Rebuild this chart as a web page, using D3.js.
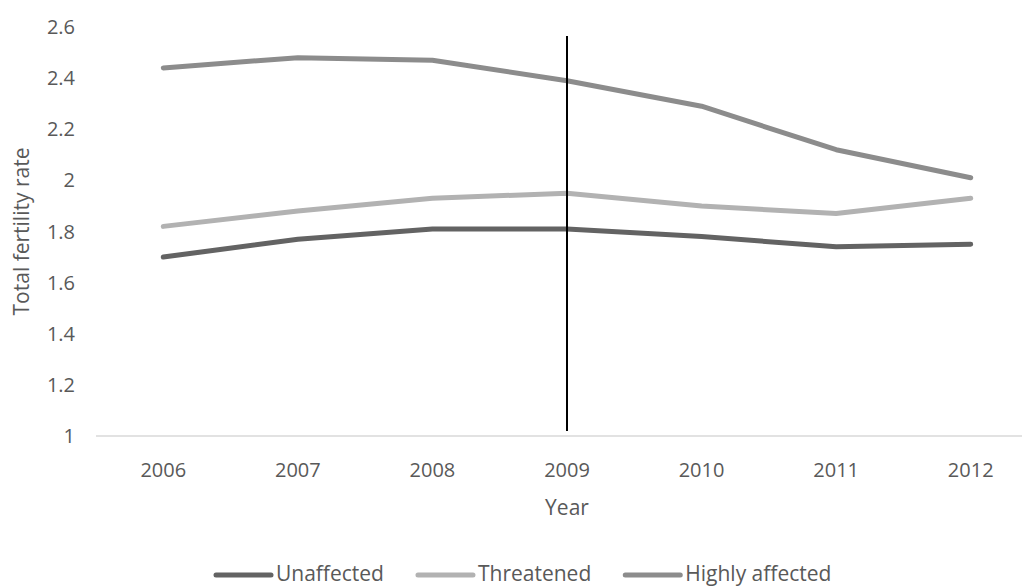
<!DOCTYPE html>
<html>
<head>
<meta charset="utf-8">
<script src="https://cdn.jsdelivr.net/npm/d3@7/dist/d3.min.js"></script>
<style>
  html, body { margin: 0; padding: 0; background: #fff; }
  svg { display: block; font-family: "Open Sans", Lato, sans-serif; }
</style>
</head>
<body>
<svg id="chart" width="1022" height="587"></svg>
<script>
// Total fertility rate by region type, 2006–2012
const years = ["2006", "2007", "2008", "2009", "2010", "2011", "2012"];
const unaffected = [1.70, 1.77, 1.81, 1.81, 1.78, 1.74, 1.75];
const threatened = [1.82, 1.88, 1.93, 1.95, 1.90, 1.87, 1.93];
const highlyAffected = [2.44, 2.48, 2.47, 2.39, 2.29, 2.12, 2.01];
const yTicks = [1, 1.2, 1.4, 1.6, 1.8, 2, 2.2, 2.4, 2.6];
const markerYear = "2009";
const markerSpan = [1.02, 2.565];

const series = [
  { name: "Unaffected", values: unaffected, color: "#636363" },
  { name: "Threatened", values: threatened, color: "#b2b2b2" },
  { name: "Highly affected", values: highlyAffected, color: "#8c8c8c" }
];

const svg = d3.select("#chart");
const textColor = "#595959";

const x = d3.scalePoint().domain(years).range([96, 1038]).padding(0.5);
const y = d3.scaleLinear().domain([1, 2.6]).range([436, 27]);

// x axis baseline and year labels
svg.append("line")
  .attr("x1", 96).attr("x2", 1038)
  .attr("y1", y(1)).attr("y2", y(1))
  .attr("stroke", "#d9d9d9").attr("stroke-width", 1.5);

svg.append("g").selectAll("text")
  .data(years).join("text")
  .attr("x", d => x(d)).attr("y", 477)
  .attr("text-anchor", "middle")
  .attr("font-size", 20).attr("fill", textColor)
  .text(d => d);

// y tick labels
svg.append("g").selectAll("text")
  .data(yTicks).join("text")
  .attr("x", 75).attr("y", d => y(d))
  .attr("dy", "0.35em")
  .attr("text-anchor", "end")
  .attr("font-size", 20).attr("fill", textColor)
  .text(d => d3.format("~g")(d));

// axis titles
svg.append("text")
  .attr("x", 567).attr("y", 515)
  .attr("text-anchor", "middle")
  .attr("font-size", 21).attr("fill", textColor)
  .text("Year");

svg.append("text")
  .attr("transform", `translate(29, ${y(1.8)}) rotate(-90)`)
  .attr("text-anchor", "middle")
  .attr("font-size", 21).attr("fill", textColor)
  .text("Total fertility rate");

// series lines
const line = d3.line()
  .x((d, i) => x(years[i]))
  .y(d => y(d));

svg.append("g").selectAll("path")
  .data(series).join("path")
  .attr("d", d => line(d.values))
  .attr("fill", "none")
  .attr("stroke", d => d.color)
  .attr("stroke-width", 5)
  .attr("stroke-linecap", "round")
  .attr("stroke-linejoin", "round");

// vertical marker at 2009
svg.append("line")
  .attr("x1", x(markerYear)).attr("x2", x(markerYear))
  .attr("y1", y(markerSpan[0])).attr("y2", y(markerSpan[1]))
  .attr("stroke", "#000").attr("stroke-width", 2);

// legend along the bottom edge
const legendBaseline = 581;
const swatch = 55;
const legend = svg.append("g");
let cursor = 216;
series.forEach(s => {
  legend.append("line")
    .attr("x1", cursor).attr("x2", cursor + swatch)
    .attr("y1", legendBaseline - 6).attr("y2", legendBaseline - 6)
    .attr("stroke", s.color).attr("stroke-width", 5)
    .attr("stroke-linecap", "round");
  const t = legend.append("text")
    .attr("x", cursor + swatch + 5).attr("y", legendBaseline)
    .attr("font-size", 21).attr("fill", textColor)
    .text(s.name);
  cursor += swatch + 5 + t.node().getComputedTextLength() + 34;
});
</script>
</body>
</html>
